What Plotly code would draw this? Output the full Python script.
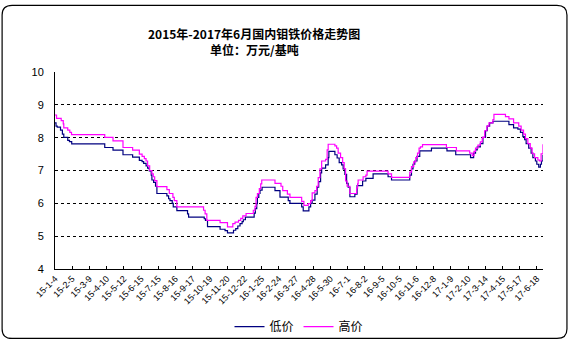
import plotly.graph_objects as go

# ---- data ----
tick_labels = ["15-1-4", "15-2-5", "15-3-9", "15-4-10", "15-5-12", "15-6-15", "15-7-15",
               "15-8-16", "15-9-17", "15-10-19", "15-11-20", "15-12-22", "16-1-25", "16-2-24",
               "16-3-27", "16-4-28", "16-5-30", "16-7-1", "16-8-2", "16-9-5", "16-10-5",
               "16-11-6", "16-12-8", "17-1-9", "17-2-10", "17-3-14", "17-4-15", "17-5-17",
               "17-6-18"]

# x positions in units of the month ticks (step change points)
low_x = [0, 0.06, 0.13, 0.32, 0.43, 0.51, 0.74, 0.84, 0.97, 2.89, 3.37, 3.95, 4.51, 4.90, 5.06,
         5.15, 5.29, 5.38, 5.48, 5.59, 5.63, 5.73, 5.84, 5.92, 6.50, 6.60, 6.68, 6.81, 6.87,
         7.08, 7.70, 7.76, 8.67, 8.74, 8.86, 9.59, 9.88, 10.02, 10.37, 10.50, 10.62, 10.75,
         10.87, 10.94, 11.06, 11.57, 11.64, 11.72, 11.76, 11.84, 11.91, 12.03, 12.78, 13.07,
         13.55, 13.65, 14.33, 14.42, 14.75, 14.85, 14.94, 15.10, 15.23, 15.32, 15.43, 15.49,
         15.72, 15.87, 15.91, 16.26, 16.39, 16.51, 16.65, 16.74, 16.84, 16.94, 17.03, 17.13,
         17.42, 17.55, 17.87, 18.06, 18.48, 19.35, 19.55, 20.61, 20.71, 20.80, 20.90, 21.03,
         21.19, 21.87, 22.77, 23.28, 24.14, 24.32, 24.43, 24.53, 24.71, 24.86, 25.01, 25.11,
         25.25, 25.44, 26.37, 26.64, 26.89, 27.04, 27.18, 27.28, 27.37, 27.52, 27.66, 27.76,
         27.91, 27.99, 28.10, 28.20, 28.26, 28.35]
low = [8.45, 8.35, 8.32, 8.23, 8.11, 8.01, 7.92, 7.88, 7.81, 7.70, 7.62, 7.48, 7.41, 7.31, 7.27,
       7.22, 7.14, 7.07, 6.99, 6.86, 6.71, 6.64, 6.52, 6.30, 6.23, 6.14, 6.08, 6.00, 5.89,
       5.78, 5.68, 5.58, 5.53, 5.48, 5.29, 5.21, 5.17, 5.10, 5.18, 5.23, 5.31, 5.38,
       5.44, 5.50, 5.58, 5.70, 5.84, 5.99, 6.18, 6.30, 6.40, 6.49, 6.39, 6.19,
       6.08, 6.00, 5.89, 5.77, 5.89, 6.00, 6.10, 6.28, 6.49, 6.66, 6.93, 7.07,
       7.17, 7.39, 7.58, 7.48, 7.38, 7.24, 7.17, 7.05, 6.88, 6.61, 6.49, 6.20,
       6.28, 6.54, 6.68, 6.76, 6.90, 6.81, 6.71, 6.86, 7.05, 7.19, 7.29, 7.43,
       7.60, 7.68, 7.60, 7.48, 7.39, 7.53, 7.63, 7.72, 7.82, 8.01, 8.21, 8.35,
       8.45, 8.50, 8.40, 8.30, 8.26, 8.16, 8.03, 7.94, 7.82, 7.68, 7.53, 7.39,
       7.29, 7.19, 7.10, 7.19, 7.29, 7.48]

high_x = [0, 0.09, 0.36, 0.48, 0.51, 0.74, 0.86, 0.96, 2.89, 3.37, 3.95, 4.51, 4.90, 5.06, 5.19,
          5.29, 5.38, 5.50, 5.63, 5.71, 5.79, 5.92, 6.50, 6.64, 6.85, 6.93, 7.08, 8.63, 8.72,
          8.82, 9.59, 10.02, 10.33, 10.46, 10.66, 10.79, 10.91, 11.10, 11.52, 11.62, 11.68,
          11.76, 11.87, 11.95, 12.01, 12.78, 13.13, 13.23, 13.50, 13.65, 14.33, 14.46, 14.71,
          14.85, 14.94, 15.10, 15.20, 15.29, 15.39, 15.49, 15.72, 15.81, 15.87, 16.26, 16.36,
          16.45, 16.59, 16.71, 16.80, 16.88, 16.97, 17.13, 17.52, 17.58, 17.61, 17.90, 18.06,
          18.13, 19.35, 19.55, 20.61, 20.71, 20.84, 20.96, 21.06, 21.15, 21.23, 21.35, 22.74,
          23.32, 24.09, 24.24, 24.34, 24.43, 24.57, 24.71, 24.82, 24.96, 25.09, 25.21, 25.44,
          25.50, 26.17, 26.37, 26.64, 26.94, 27.08, 27.22, 27.33, 27.47, 27.61, 27.72, 27.86,
          28.05, 28.14, 28.24, 28.35]
high = [8.69, 8.59, 8.52, 8.42, 8.30, 8.23, 8.16, 8.09, 8.01, 7.90, 7.70, 7.62, 7.50, 7.43, 7.36,
        7.29, 7.14, 7.00, 6.90, 6.81, 6.69, 6.51, 6.42, 6.30, 6.18, 6.08, 5.89, 5.79, 5.68,
        5.48, 5.41, 5.28, 5.38, 5.43, 5.48, 5.54, 5.62, 5.69, 5.79, 5.91, 6.18,
        6.30, 6.45, 6.59, 6.71, 6.61, 6.52, 6.39, 6.28, 6.18, 6.06, 5.94, 5.99,
        6.08, 6.32, 6.39, 6.52, 6.78, 7.05, 7.29, 7.34, 7.63, 7.80, 7.75, 7.68,
        7.53, 7.39, 7.24, 7.05, 6.68, 6.52, 6.30, 6.47, 6.59, 6.71, 6.81, 6.86,
        6.98, 6.90, 6.79, 6.95, 7.12, 7.26, 7.39, 7.53, 7.68, 7.72, 7.79, 7.70,
        7.60, 7.53, 7.45, 7.58, 7.68, 7.77, 7.87, 8.01, 8.21, 8.35, 8.45, 8.55,
        8.71, 8.64, 8.57, 8.45, 8.35, 8.23, 8.11, 7.97, 7.82, 7.68, 7.51, 7.39,
        7.32, 7.29, 7.51, 7.80]

title_line1 = "2015年-2017年6月国内钼铁价格走势图"
title_line2 = "单位：万元/基吨"

# ---- layout geometry (pixels) ----
W, H = 569, 353
L, R, T, B = 54.5, 25.5, 71.5, 74.5
pw, ph = W - L - R, H - T - B


def px(x):
    return (x - L) / pw


def py(y):
    return (H - B - y) / ph


fig = go.Figure()
fig.add_trace(go.Scatter(x=low_x, y=low, mode="lines", name="低价", line_shape="hv",
                         line=dict(color="#000080", width=1.2)))
fig.add_trace(go.Scatter(x=high_x, y=high, mode="lines", name="高价", line_shape="hv",
                         line=dict(color="#FF00FF", width=1.2)))

# rounded border around whole chart
x0, y0, x1, y1, r = 1.5, 1.5, 567.5, 351.5, 10
path = (f"M {px(x0 + r)},{py(y0)} L {px(x1 - r)},{py(y0)} Q {px(x1)},{py(y0)} {px(x1)},{py(y0 + r)} "
        f"L {px(x1)},{py(y1 - r)} Q {px(x1)},{py(y1)} {px(x1 - r)},{py(y1)} "
        f"L {px(x0 + r)},{py(y1)} Q {px(x0)},{py(y1)} {px(x0)},{py(y1 - r)} "
        f"L {px(x0)},{py(y0 + r)} Q {px(x0)},{py(y0)} {px(x0 + r)},{py(y0)} Z")
fig.add_shape(type="path", path=path, xref="paper", yref="paper",
              line=dict(color="black", width=1.2), layer="above")

tfont = dict(family="Noto Sans CJK SC", size=12, color="black", weight="bold")
fig.add_annotation(text=title_line1, xref="paper", yref="paper", x=px(254), y=py(31),
                   xanchor="center", yanchor="middle", showarrow=False, font=tfont)
fig.add_annotation(text=title_line2, xref="paper", yref="paper", x=px(254), y=py(48),
                   xanchor="center", yanchor="middle", showarrow=False, font=tfont)

fig.update_layout(
    width=W, height=H,
    margin=dict(l=L, r=R, t=T, b=B),
    paper_bgcolor="white", plot_bgcolor="white",
    showlegend=True,
    legend=dict(orientation="h", x=0.5, xanchor="center", xref="paper",
                y=py(339), yanchor="middle", font=dict(family="Noto Sans CJK SC", size=12, color="black"),
                itemwidth=30, bgcolor="rgba(0,0,0,0)"),
    xaxis=dict(range=[0, 28.35], tickvals=list(range(len(tick_labels))), ticktext=tick_labels,
               tickangle=-45, ticks="inside", ticklen=3, tickcolor="black",
               tickfont=dict(family="Arial", size=9, color="black"),
               showline=True, linecolor="black", linewidth=1, showgrid=False, zeroline=False,
               mirror=False),
    yaxis=dict(range=[4, 10], dtick=1, tickvals=[4, 5, 6, 7, 8, 9, 10],
               showgrid=True, gridcolor="black", griddash="3px,3px", gridwidth=1,
               showline=True, linecolor="black", linewidth=1, zeroline=False,
               ticks="", ticklabelstandoff=8,
               tickfont=dict(family="Arial", size=11, color="black")),
)

fig.write_html("out.html")
